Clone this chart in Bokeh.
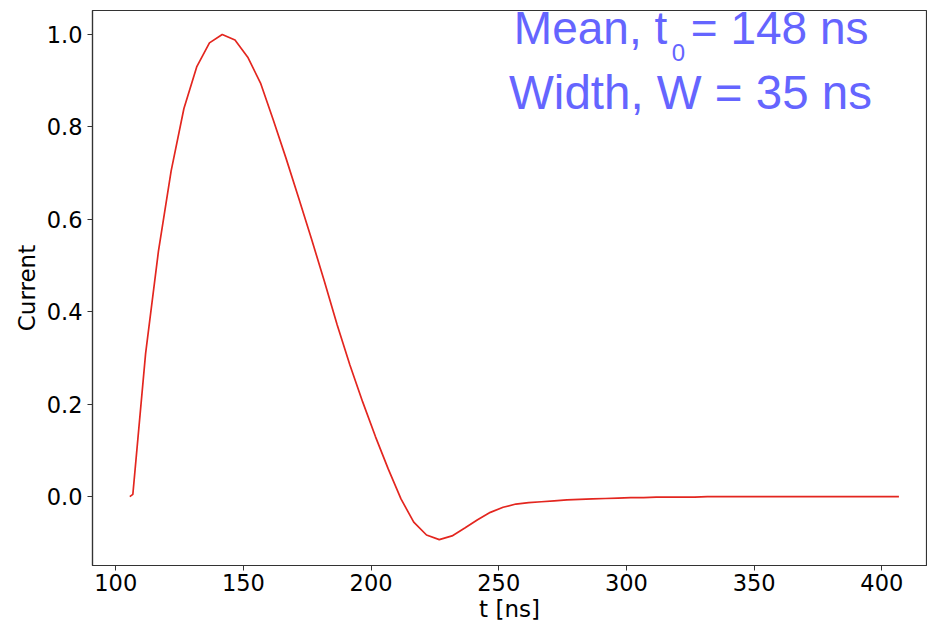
from bokeh.plotting import figure
from bokeh.models import Range1d, FixedTicker, NumeralTickFormatter, Label, ColumnDataSource
from bokeh.embed import file_html
from bokeh.resources import INLINE

# time samples [ns]
t_ns = [105.5, 106.7, 111.7, 116.7, 121.7, 126.7, 131.7, 136.7, 141.7, 146.7,
        151.7, 156.7, 161.7, 166.7, 171.7, 176.7, 181.7, 186.7, 191.7, 196.7,
        201.7, 206.7, 211.7, 216.7, 221.7, 226.7, 231.7, 236.7, 241.7, 246.7,
        251.7, 256.7, 261.7, 266.7, 271.7, 276.7, 281.7, 286.7, 291.7, 296.7,
        301.7, 306.7, 311.7, 316.7, 321.7, 326.7, 331.7, 336.7, 341.7, 346.7,
        351.7, 356.7, 361.7, 366.7, 371.7, 376.7, 381.7, 386.7, 391.7, 396.7,
        401.7, 406.7]
# normalised current
current = [0.0, 0.005, 0.31, 0.53, 0.705, 0.84, 0.93, 0.982, 1.0, 0.988,
           0.951, 0.895, 0.815, 0.732, 0.645, 0.557, 0.466, 0.372, 0.285, 0.205,
           0.13, 0.06, -0.005, -0.055, -0.083, -0.093, -0.085, -0.068, -0.05, -0.034,
           -0.023, -0.016, -0.013, -0.011, -0.009, -0.007, -0.006, -0.005, -0.004, -0.003,
           -0.002, -0.002, -0.001, -0.001, -0.001, -0.001, 0.0, 0.0, 0.0, 0.0,
           0.0, 0.0, 0.0, 0.0, 0.0, 0.0, 0.0, 0.0, 0.0, 0.0,
           0.0, 0.0]

x_ticks = [100, 150, 200, 250, 300, 350, 400]
y_ticks = [0.0, 0.2, 0.4, 0.6, 0.8, 1.0]
x_label = "t [ns]"
y_label = "Current"
note_mean = "Mean, t"
note_sub = "0"
note_mean_rest = "= 148 ns"
note_width = "Width, W = 35 ns"

src = ColumnDataSource(dict(t=t_ns, c=current))

p = figure(width=927, height=625, output_backend="svg", toolbar_location=None,
           x_range=Range1d(90.9, 417.5), y_range=Range1d(-0.149, 1.052),
           min_border_left=92, min_border_right=1, min_border_top=10, min_border_bottom=60)
p.line("t", "c", source=src, line_color="#e3261f", line_width=1.7)

p.xgrid.visible = False
p.ygrid.visible = False
p.outline_line_color = "#333333"
p.outline_line_width = 1.2
p.background_fill_color = "white"
p.border_fill_color = "white"

p.xaxis.ticker = FixedTicker(ticks=x_ticks)
p.yaxis.ticker = FixedTicker(ticks=y_ticks)
p.yaxis.formatter = NumeralTickFormatter(format="0.0")
p.xaxis.axis_label = x_label
p.yaxis.axis_label = y_label
for ax in (p.xaxis, p.yaxis):
    ax.axis_line_color = "#333333"
    ax.axis_line_width = 1.2
    ax.major_tick_line_color = "#333333"
    ax.major_tick_out = 5
    ax.major_tick_in = 0
    ax.minor_tick_line_color = None
    ax.major_label_text_font = "DejaVu Sans"
    ax.major_label_text_font_size = "22.5px"
    ax.major_label_text_color = "black"
    ax.axis_label_text_font = "DejaVu Sans"
    ax.axis_label_text_font_size = "23px"
    ax.axis_label_text_font_style = "normal"
    ax.axis_label_text_color = "black"
p.xaxis.major_label_standoff = 3
p.yaxis.major_label_standoff = 5
p.xaxis.axis_label_standoff = 2
p.yaxis.axis_label_standoff = 4

col = "#6565ff"
fnt = "Liberation Sans"
p.add_layout(Label(x=255.9, y=1.015, text=note_mean, text_font=fnt, text_font_size="46px",
                   text_color=col, text_baseline="alphabetic", text_align="left"))
p.add_layout(Label(x=317.7, y=0.9615, text=note_sub, text_font=fnt, text_font_size="24px",
                   text_color=col, text_baseline="alphabetic", text_align="left"))
p.add_layout(Label(x=325.2, y=1.015, text=note_mean_rest, text_font=fnt, text_font_size="46px",
                   text_color=col, text_baseline="alphabetic", text_align="left"))
p.add_layout(Label(x=254.0, y=0.875, text=note_width, text_font=fnt, text_font_size="47.5px",
                   text_color=col, text_baseline="alphabetic", text_align="left"))

open("out.html", "w").write(file_html(p, INLINE))
